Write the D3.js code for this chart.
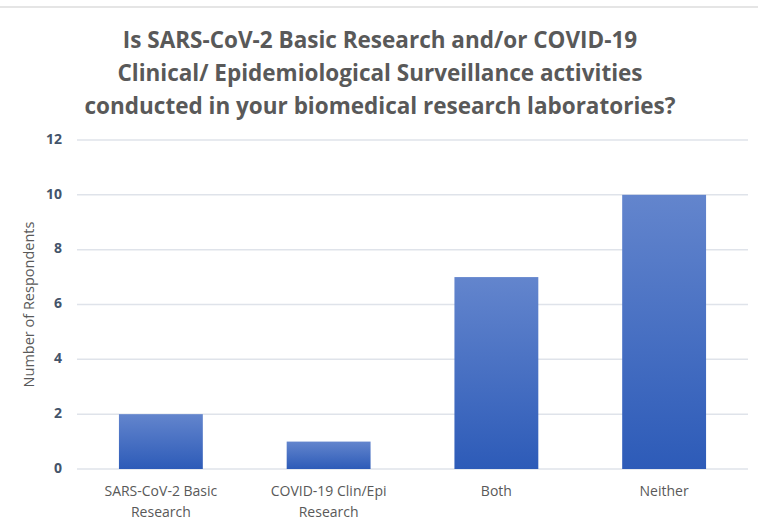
<!DOCTYPE html>
<html>
<head>
<meta charset="utf-8">
<script src="https://cdn.jsdelivr.net/npm/d3@7"></script>
<style>
  body { margin: 0; background: #fff; }
  svg { display: block; }
  .title { font-family: "Open Sans", sans-serif; font-weight: bold; fill: #595959; }
</style>
</head>
<body>
<svg id="chart"></svg>
<script>
const categories = [["SARS-CoV-2 Basic", "Research"], ["COVID-19 Clin/Epi", "Research"], ["Both"], ["Neither"]];
const values = [2, 1, 7, 10];
const yTicks = [0, 2, 4, 6, 8, 10, 12];
const titleLines = [
    "Is SARS-CoV-2 Basic Research and/or COVID-19",
    "Clinical/ Epidemiological Surveillance activities",
    "conducted in your biomedical research laboratories?"
];
const yLabel = "Number of Respondents";

const width = 758, height = 528;
const margin = {top: 140, right: 10, bottom: 59, left: 77};

const svg = d3.select("#chart")
    .attr("width", width)
    .attr("height", height);

// thin border line along the top
svg.append("line")
    .attr("x1", 0).attr("x2", width)
    .attr("y1", 7).attr("y2", 7)
    .attr("stroke", "#dcdcdc")
    .attr("stroke-width", 1.5);

const defs = svg.append("defs");
const grad = defs.append("linearGradient")
    .attr("id", "barGrad")
    .attr("x1", 0).attr("y1", 0).attr("x2", 0).attr("y2", 1);
grad.append("stop").attr("offset", "0%").attr("stop-color", "#6385cd");
grad.append("stop").attr("offset", "100%").attr("stop-color", "#2d5bb8");

const x = d3.scaleBand()
    .domain(categories.map(d => d.join(" ")))
    .range([margin.left, width - margin.right])
    .paddingInner(0.5)
    .paddingOuter(0.25);

const y = d3.scaleLinear()
    .domain([0, 12])
    .range([height - margin.bottom, margin.top]);

// gridlines
svg.append("g")
    .selectAll("line")
    .data(yTicks)
    .enter().append("line")
    .attr("x1", margin.left)
    .attr("x2", width - margin.right)
    .attr("y1", d => y(d))
    .attr("y2", d => y(d))
    .attr("stroke", "#dfe3ea")
    .attr("stroke-width", 1.5);

// y tick labels
svg.append("g")
    .selectAll("text")
    .data(yTicks)
    .enter().append("text")
    .attr("x", margin.left - 15)
    .attr("y", d => y(d))
    .attr("text-anchor", "end")
    .attr("dominant-baseline", "middle")
    .attr("font-family", "'Open Sans', sans-serif")
    .attr("font-weight", "bold")
    .attr("font-size", 14)
    .attr("fill", "#44546a")
    .text(d => d);

// bars
svg.append("g")
    .selectAll("rect")
    .data(values)
    .enter().append("rect")
    .attr("x", (d, i) => x(categories[i].join(" ")))
    .attr("width", x.bandwidth())
    .attr("y", d => y(d))
    .attr("height", d => y(0) - y(d))
    .attr("fill", "url(#barGrad)");

// category labels
const catText = svg.append("g")
    .selectAll("text")
    .data(categories)
    .enter().append("text")
    .attr("x", d => x(d.join(" ")) + x.bandwidth() / 2)
    .attr("y", 496)
    .attr("text-anchor", "middle")
    .attr("font-family", "'Open Sans', sans-serif")
    .attr("font-size", 14)
    .attr("fill", "#595959");
catText.selectAll("tspan")
    .data(d => d)
    .enter().append("tspan")
    .attr("x", function () { return d3.select(this.parentNode).attr("x"); })
    .attr("dy", (d, i) => i === 0 ? 0 : 21)
    .text(d => d);

// y axis title
svg.append("text")
    .attr("transform", `translate(34, ${(y(0) + y(12)) / 2}) rotate(-90)`)
    .attr("text-anchor", "middle")
    .attr("font-family", "'Open Sans', sans-serif")
    .attr("font-size", 14.5)
    .attr("fill", "#595959")
    .text(yLabel);

// chart title
svg.append("g")
    .selectAll("text")
    .data(titleLines)
    .enter().append("text")
    .attr("class", "title")
    .attr("x", 380)
    .attr("y", (d, i) => 48 + i * 33)
    .attr("text-anchor", "middle")
    .attr("font-size", 22.5)
    .text(d => d);
</script>
</body>
</html>
